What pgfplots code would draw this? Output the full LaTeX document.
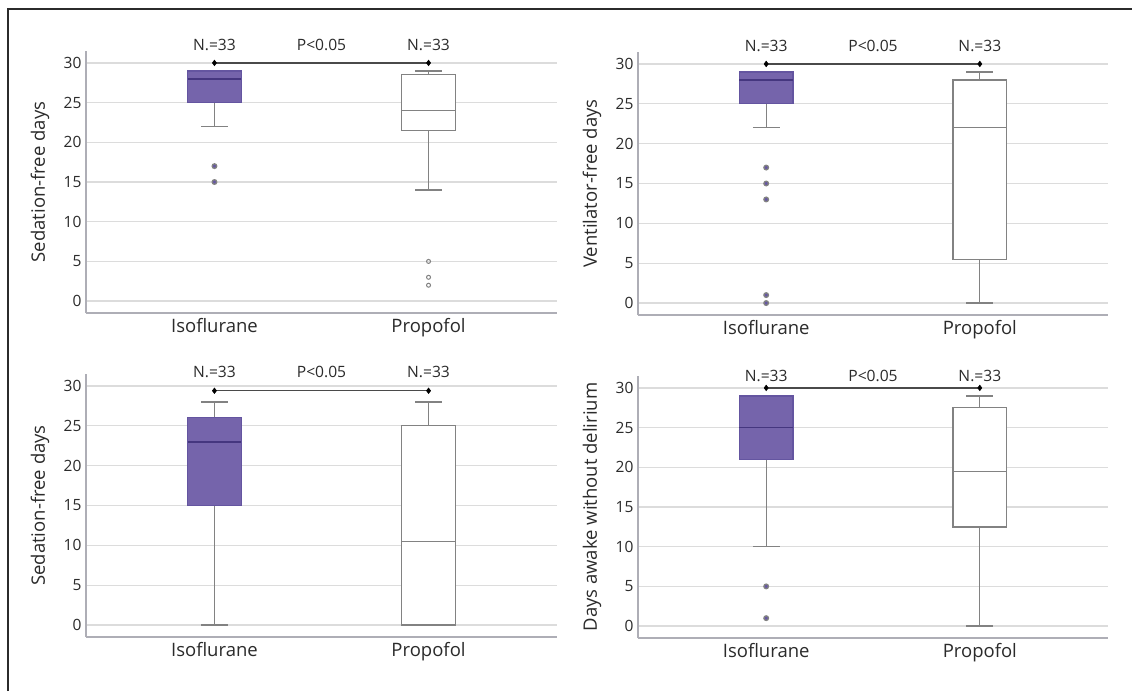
\documentclass[border=0pt]{standalone}
\usepackage{fontspec}
\setmainfont{Open Sans}
\usepackage{pgfplots}
\pgfplotsset{compat=1.18}
\usepgfplotslibrary{statistics}
\definecolor{isofill}{HTML}{7564AB}
\definecolor{isoedge}{HTML}{6455A0}
\definecolor{isomed}{HTML}{45367F}
\definecolor{isodot}{HTML}{6657A3}
\definecolor{whisk}{HTML}{828282}
\definecolor{gridc}{HTML}{DCDCDC}
\definecolor{axc}{HTML}{AEAEB6}
\definecolor{txt}{HTML}{2B2B2B}
\definecolor{sigc}{HTML}{4A4A4A}
\tikzset{lab/.style={font=\fontsize{15.6}{18}\selectfont, text=txt}}
\pgfplotsset{
 panel/.style={
  scale only axis, width=471pt, height=262pt,
  xmin=0.4, xmax=2.6, ymin=-1.5, ymax=31.5,
  xtick={1,2}, xticklabels={Isoflurane,Propofol},
  ytick={0,5,...,30},
  ymajorgrids, grid style={draw=gridc, line width=1.3pt},
  axis lines=left, axis line style={-, draw=axc, line width=1.3pt},
  major tick length=0pt,
  boxplot/draw direction=y,
  /pgf/number format/assume math mode=true,
  yticklabel style={font=\fontsize{15.5}{18}\selectfont, text=txt, xshift=-1pt},
  xticklabel style={font=\fontsize{18.5}{21}\selectfont, text=txt, yshift=-2pt},
  every axis y label/.style={at={(axis description cs:0,0.5)}, xshift=-46pt, rotate=90, anchor=center, font=\fontsize{18.5}{21}\selectfont, text=txt},
  clip=false,
 },
 isoA/.style={
   draw=whisk, line width=1.3pt,
   boxplot/every box/.style={draw=isoedge, fill=isofill},
   boxplot/every median/.style={draw=isomed, line width=1.7pt},
   mark=*, mark size=2.3pt, mark options={draw=none, fill=isodot}},
 proA/.style={
   draw=whisk, line width=1.3pt,
   boxplot/every box/.style={draw=whisk, fill=white},
   boxplot/every median/.style={draw=whisk, line width=1.3pt},
   mark=o, mark size=2pt, mark options={draw=whisk, line width=1pt, fill=white}},
 sig/.style={draw=sigc, line width=1.2pt, mark=diamond*, mark size=2.8pt, mark options={fill=black, draw=black, line width=0.5pt}},
}
\begin{document}
\begin{tikzpicture}
\path[use as bounding box, fill=white] (0pt,0pt) rectangle (1132pt,-691pt);
\draw[line width=1.5pt, draw=txt] (8pt,-691pt) -- (8pt,-9pt) -- (1132pt,-9pt);

% Top-left
\begin{axis}[panel, at={(86pt,-313pt)}, anchor=south west, ylabel={Sedation-free days}]
\addplot[isoA, boxplot prepared={lower whisker=22, lower quartile=25, median=28, upper quartile=29, upper whisker=29, draw position=1, box extend=0.25, whisker extend=0.125}] table[row sep=\\, y index=0] {y\\17\\15\\};
\addplot[proA, boxplot prepared={lower whisker=14, lower quartile=21.5, median=24, upper quartile=28.5, upper whisker=29, draw position=2, box extend=0.25, whisker extend=0.125}] table[row sep=\\, y index=0] {y\\5\\3\\2\\};
\addplot[sig] coordinates {(1,30) (2,30)};
\node[lab] at (axis cs:1,32.2) {N.=33};
\node[lab] at (axis cs:1.5,32.2) {P<0.05};
\node[lab] at (axis cs:2,32.2) {N.=33};
\end{axis}

% Top-right
\begin{axis}[panel, at={(638pt,-315pt)}, anchor=south west, ylabel={Ventilator-free days}, width=470pt, height=263pt]
\addplot[isoA, boxplot prepared={lower whisker=22, lower quartile=25, median=28, upper quartile=29, upper whisker=29, draw position=1, box extend=0.25, whisker extend=0.125}] table[row sep=\\, y index=0] {y\\17\\15\\13\\1\\0\\};
\addplot[proA, boxplot prepared={lower whisker=0, lower quartile=5.5, median=22, upper quartile=28, upper whisker=29, draw position=2, box extend=0.25, whisker extend=0.125}] coordinates {};
\addplot[sig] coordinates {(1,30) (2,30)};
\node[lab] at (axis cs:1,32.3) {N.=33};
\node[lab] at (axis cs:1.5,32.3) {P<0.05};
\node[lab] at (axis cs:2,32.3) {N.=33};
\end{axis}

% Bottom-left
\begin{axis}[panel, at={(86pt,-637pt)}, anchor=south west, ylabel={Sedation-free days}, height=263pt]
\addplot[isoA, boxplot prepared={lower whisker=0, lower quartile=15, median=23, upper quartile=26, upper whisker=28, draw position=1, box extend=0.25, whisker extend=0.125}] coordinates {};
\addplot[proA, boxplot prepared={lower whisker=0, lower quartile=0, median=10.5, upper quartile=25, upper whisker=28, draw position=2, box extend=0.25, whisker extend=0.125}] coordinates {};
\addplot[sig] coordinates {(1,29.4) (2,29.4)};
\node[lab] at (axis cs:1,31.7) {N.=33};
\node[lab] at (axis cs:1.5,31.7) {P<0.05};
\node[lab] at (axis cs:2,31.7) {N.=33};
\end{axis}

% Bottom-right
\begin{axis}[panel, at={(638pt,-638pt)}, anchor=south west, ylabel={Days awake without delirium}, width=470pt]
\addplot[isoA, boxplot prepared={lower whisker=10, lower quartile=21, median=25, upper quartile=29, upper whisker=29, draw position=1, box extend=0.25, whisker extend=0.125}] table[row sep=\\, y index=0] {y\\5\\1\\};
\addplot[proA, boxplot prepared={lower whisker=0, lower quartile=12.5, median=19.5, upper quartile=27.5, upper whisker=29, draw position=2, box extend=0.25, whisker extend=0.125}] coordinates {};
\addplot[sig] coordinates {(1,30) (2,30)};
\node[lab] at (axis cs:1,31.5) {N.=33};
\node[lab] at (axis cs:1.5,31.5) {P<0.05};
\node[lab] at (axis cs:2,31.5) {N.=33};
\end{axis}
\end{tikzpicture}
\end{document}
